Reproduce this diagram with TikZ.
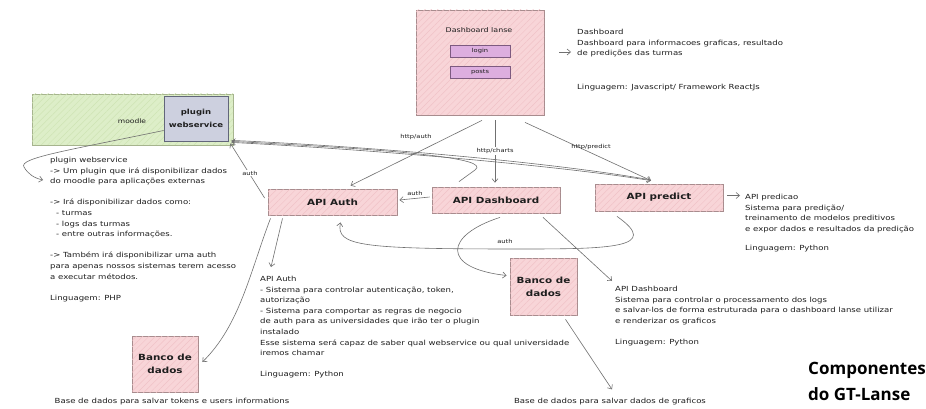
\documentclass[tikz,border=0pt]{standalone}
\usepackage{fontspec}
\setmainfont{DejaVu Sans}[FakeStretch=1.22]
\newfontfamily\capfont{Open Sans}
\usetikzlibrary{arrows.meta,calc,patterns.meta}

\definecolor{rosefill}{HTML}{F8D5D8}
\definecolor{rosehatch}{HTML}{F0C2C7}
\definecolor{roseedge}{HTML}{A88C8E}
\definecolor{lilacfill}{HTML}{DDAEDF}
\definecolor{lilacedge}{HTML}{7D5A80}
\definecolor{limefill}{HTML}{DDEEC8}
\definecolor{limehatch}{HTML}{CFE4B4}
\definecolor{limeedge}{HTML}{A6B48E}
\definecolor{slatefill}{HTML}{CDD0DF}
\definecolor{slateedge}{HTML}{62667A}
\definecolor{inkline}{HTML}{707070}
\definecolor{ink}{HTML}{1E1E1E}

\tikzset{
  hatch/.style={postaction={pattern={Lines[angle=45,distance=4.5pt,line width=0.5pt]},
    pattern color=#1}},
  comp/.style={draw=roseedge, fill=rosefill, hatch=rosehatch, line width=0.8pt, inner sep=0pt,
    align=center, text=ink, font=\fontsize{8.5}{11}\selectfont\bfseries},
  field/.style={draw=lilacedge, fill=lilacfill, line width=0.7pt,
    minimum width=60pt, minimum height=12pt, inner sep=0pt, text=ink,
    font=\fontsize{5.5}{6}\selectfont},
  memo/.style={anchor=north west, align=left, inner sep=0pt, text=ink,
    font=\fontsize{7}{10.6}\selectfont},
  tag/.style={inner sep=1pt, text=ink, font=\fontsize{5.5}{6}\selectfont},
  flow/.style={draw=inkline, line width=0.6pt, -{Straight Barb[length=3.5pt,width=6pt]}},
  backflow/.style={draw=inkline, line width=0.6pt, {Straight Barb[length=3.5pt,width=6pt]}-},
  plainflow/.style={draw=inkline, line width=0.6pt},
}

\begin{document}
\begin{tikzpicture}[x=1pt,y=-1pt]
\useasboundingbox (0,0) rectangle (926,409);
\fill[white] (0,0) rectangle (926,409);

% ---------- front end ----------
\node[comp, minimum width=128pt, minimum height=105pt] (dashboard) at (480,62.5) {};
\node[inner sep=0pt, text=ink, font=\fontsize{6.5}{8}\selectfont] (dashtitle) at (479,30) {Dashboard lanse};
\node[field] (login) at (480,51) {login};
\node[field] (posts) at (480,72) {posts};

\node[memo] (dashnote) at (577,29) {Dashboard\\
Dashboard para informacoes graficas, resultado\\
de predições das turmas\\[23pt]
Linguagem: Javascript/ Framework ReactJs};

% ---------- moodle ----------
\node[draw=limeedge, fill=limefill, hatch=limehatch, line width=0.8pt, minimum width=201pt,
      minimum height=51pt, inner sep=0pt] (moodle) at (132.5,119.5) {};
\node[inner sep=0pt, text=ink, font=\fontsize{6.2}{7}\selectfont] (moodletag) at (132,121) {moodle};
\node[draw=slateedge, fill=slatefill, line width=0.8pt, minimum width=64pt,
      minimum height=45pt, inner sep=0pt, align=center, text=ink,
      font=\fontsize{7}{13}\selectfont\bfseries] (plugin) at (196,118.5) {plugin\\webservice};

\node[memo] (plugnote) at (50,157) {plugin webservice\\
-> Um plugin que irá disponibilizar dados\\
do moodle para aplicações externas\\[10.6pt]
-> Irá disponibilizar dados como:\\
\hspace*{6pt}- turmas\\
\hspace*{6pt}- logs das turmas\\
\hspace*{6pt}- entre outras informações.\\[10.6pt]
-> Também irá disponibilizar uma auth\\
para apenas nossos sistemas terem acesso\\
a executar métodos.\\[10.6pt]
Linguagem: PHP};

% ---------- services ----------
\node[comp, minimum width=129pt, minimum height=26pt] (apiauth) at (332.5,202) {API Auth};
\node[comp, minimum width=128pt, minimum height=26pt] (apidash) at (496,200) {API Dashboard};
\node[comp, minimum width=128pt, minimum height=27pt] (apipred) at (659,197.5) {API predict};

\node[memo] (prednote) at (745,194) {API predicao\\
Sistema para predição/\\
treinamento de modelos preditivos\\
e expor dados e resultados da predição\\[9pt]
Linguagem: Python};

\node[memo] (authnote) at (260,276) {API Auth\\
- Sistema para controlar autenticação, token,\\
autorização\\
- Sistema para comportar as regras de negocio\\
de auth para as universidades que irão ter o plugin\\
instalado\\
Esse sistema será capaz de saber qual webservice ou qual universidade\\
iremos chamar\\[10.6pt]
Linguagem: Python};

\node[memo] (dashapinote) at (615,286) {API Dashboard\\
Sistema para controlar o processamento dos logs\\
e salvar-los de forma estruturada para o dashboard lanse utilizar\\
e renderizar os graficos\\[10.6pt]
Linguagem: Python};

% ---------- storage ----------
\node[comp, minimum width=67pt, minimum height=57pt, font=\fontsize{8.5}{13}\selectfont\bfseries]
  (dbmid) at (543.5,286.5) {Banco de\\dados};
\node[comp, minimum width=66pt, minimum height=56pt, font=\fontsize{8.5}{13}\selectfont\bfseries]
  (dbleft) at (165,364) {Banco de\\dados};

\node[inner sep=0pt, text=ink, font=\fontsize{7}{8}\selectfont] (dbleftnote) at (172,402)
  {Base de dados para salvar tokens e users informations};
\node[inner sep=0pt, text=ink, font=\fontsize{7}{8}\selectfont] (dbmidnote) at (610,402)
  {Base de dados para salvar dados de graficos};

\node[anchor=north west, inner sep=0pt, align=left, text=black,
      font=\capfont\fontsize{17}{26}\selectfont\bfseries] (caption) at (808,362)
  {Componentes\\do GT-Lanse};

% ---------- arrow end points on the notes ----------
\coordinate (dashtip) at (571,52);
\coordinate (plugtip) at (43,180);
\coordinate (predtip) at (740,195.5);
\coordinate (authtip) at (271,267);
\coordinate (dashapitip) at (612,281);

% ---------- connectors ----------
\draw[flow] ($(dashboard.east)+(15,-10.5)$) -- (dashtip);
\draw[flow] ($(apipred.east)+(4,-2)$) -- (predtip);

\draw[flow] ($(plugin.west)+(0,12)$) .. controls (70,150) and (18,158) .. (24,167)
  .. controls (28,174) and (34,178) .. (plugtip);

% plugin webservice <-> services
\draw[flow] ($(plugin.south east)+(3,1)$) .. controls (380,150) and (560,166) .. ($(apipred.north)+(-8,-3)$);
\draw[plainflow] ($(plugin.south east)+(3,-1)$) .. controls (380,147) and (555,163) .. ($(apipred.north)+(-10,-4)$);
\draw[backflow] ($(plugin.south east)+(3,0)$) .. controls (400,150) and (492,158) .. (475,170)
  -- ($(apidash.north)+(-37,-5)$);
\draw[flow] ($(apiauth.west)+(-3,-4)$) -- ($(plugin.south east)+(2,2)$);
\node[tag, fill=white] (authtag1) at (250,173) {auth};

% dashboard lanse -> services
\draw[flow] ($(dashboard.south)+(2,5)$) -- ($(apiauth.north)+(18,-3)$);
\node[tag] (httpauth) at (416,137) {http/auth};
\draw[flow] ($(dashboard.south)+(15,5)$) -- ($(apidash.north)+(-1,-4)$);
\node[tag, fill=white] (httpcharts) at (495,151) {http/charts};
\draw[flow] ($(dashboard.south)+(45,7)$) -- ($(apipred.north)+(-8,-3)$);
\node[tag] (httppredict) at (591,147) {http/predict};

% services -> auth
\draw[flow] ($(apidash.west)+(-2,-3)$) -- ($(apiauth.east)+(2,-2)$);
\node[tag] (authtag2) at (415,193) {auth};
\draw[flow] ($(apipred.south)+(-42,5)$) .. controls (662,248) and (610,249) .. (520,249)
  .. controls (360,249) and (336,246) .. ($(apiauth.south)+(8,7)$);
\node[tag] (authtag3) at (505,241) {auth};

% services -> storage and notes
\draw[flow] ($(apidash.south)+(4,4)$) .. controls (445,235) and (440,268) .. ($(dbmid.west)+(-3,-11)$);
\draw[flow] ($(apidash.south)+(47,4)$) -- (dashapitip);
\draw[flow] ($(dbmid.south)+(22,4)$) -- ($(dbmidnote.north)+(2,-9)$);
\draw[flow] ($(apiauth.south)+(-50,3)$) -- (authtip);
\draw[flow] ($(apiauth.south)+(-62,3)$) .. controls (250,272) and (240,325) .. ($(dbleft.east)+(4,-2)$);

\end{tikzpicture}
\end{document}
